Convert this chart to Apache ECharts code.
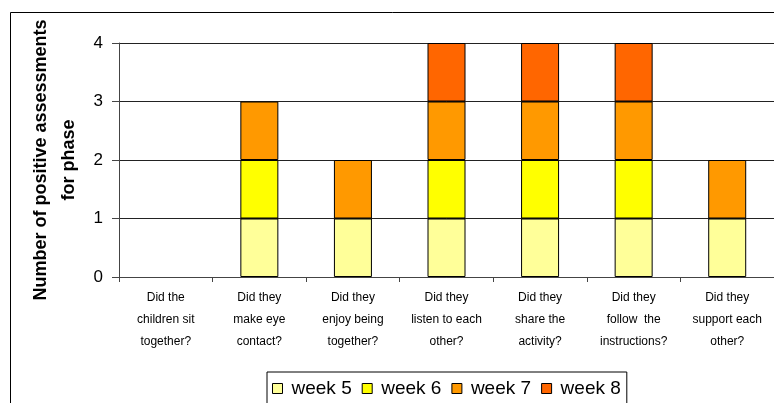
<!DOCTYPE html>
<html>
<head>
<meta charset="utf-8">
<script src="https://cdn.jsdelivr.net/npm/echarts@6/dist/echarts.min.js"></script>
<style>
  html, body { margin: 0; padding: 0; background: #fff; }
  #chart { width: 774px; height: 403px; }
</style>
</head>
<body>
<div id="chart"></div>
<script>
// Questions asked for each phase
const categories = [
  'Did the\nchildren sit\ntogether?',
  'Did they\nmake eye\ncontact?',
  'Did they\nenjoy being\ntogether?',
  'Did they\nlisten to each\nother?',
  'Did they\nshare the\nactivity?',
  'Did they\nfollow  the\ninstructions?',
  'Did they\nsupport each\nother?'
];

// Positive assessments per week
const week5 = [0, 1, 1, 1, 1, 1, 1];
const week6 = [0, 1, 0, 1, 1, 1, 0];
const week7 = [0, 1, 1, 1, 1, 1, 1];
const week8 = [0, 0, 0, 1, 1, 1, 0];

const seriesNames = ['week 5', 'week 6', 'week 7', 'week 8'];
const seriesColors = ['#FFFF99', '#FFFF00', '#FF9900', '#FF6600'];
const yTicks = [0, 1, 2, 3, 4];

const FONT = 'Liberation Sans, Arial, sans-serif';

const chart = echarts.init(document.getElementById('chart'));

const seriesData = [week5, week6, week7, week8];

chart.setOption({
  backgroundColor: '#fff',
  animation: false,
  textStyle: { fontFamily: FONT, color: '#000' },
  graphic: [{
    type: 'rect',
    shape: { x: 10.5, y: 12.5, width: 900, height: 500 },
    style: { fill: 'none', stroke: '#000', lineWidth: 1 },
    z: -10
  }],
  grid: { left: 119, top: 43, width: 656, bottom: 126 },
  legend: {
    data: seriesNames,
    left: 267,
    top: 372,
    padding: [7, 6, 20, 5],
    itemGap: 10,
    itemWidth: 10,
    itemHeight: 10,
    icon: 'rect',
    borderColor: '#000',
    borderWidth: 1,
    itemStyle: { borderColor: '#000', borderWidth: 1 },
    textStyle: { fontFamily: FONT, fontSize: 19, color: '#000', padding: [0, 0, 0, 4] }
  },
  xAxis: {
    type: 'category',
    data: categories,
    boundaryGap: true,
    axisLine: { lineStyle: { color: '#444', width: 1 } },
    axisTick: { show: true, length: 5, lineStyle: { color: '#444' } },
    axisLabel: {
      interval: 0,
      margin: 10,
      fontFamily: FONT,
      fontSize: 12,
      lineHeight: 22,
      color: '#000'
    }
  },
  yAxis: {
    type: 'value',
    min: yTicks[0],
    max: yTicks[yTicks.length - 1],
    interval: 1,
    name: 'Number of positive assessments\nfor phase',
    nameLocation: 'middle',
    nameRotate: 90,
    nameGap: 34,
    nameTextStyle: {
      fontFamily: FONT,
      fontSize: 18,
      fontWeight: 'bold',
      lineHeight: 28,
      color: '#000'
    },
    axisLine: { show: true, lineStyle: { color: '#444', width: 1 } },
    axisTick: { show: true, length: 7, lineStyle: { color: '#444' } },
    axisLabel: { margin: 16, fontFamily: FONT, fontSize: 17, color: '#000' },
    splitLine: { show: true, lineStyle: { color: '#222', width: 1 } }
  },
  series: seriesNames.map((name, i) => ({
    name,
    type: 'bar',
    stack: 'total',
    barWidth: 38,
    data: seriesData[i].map(v => (v === 0 ? null : v)),
    itemStyle: { color: seriesColors[i], borderColor: '#000', borderWidth: 1 }
  }))
});
</script>
</body>
</html>
